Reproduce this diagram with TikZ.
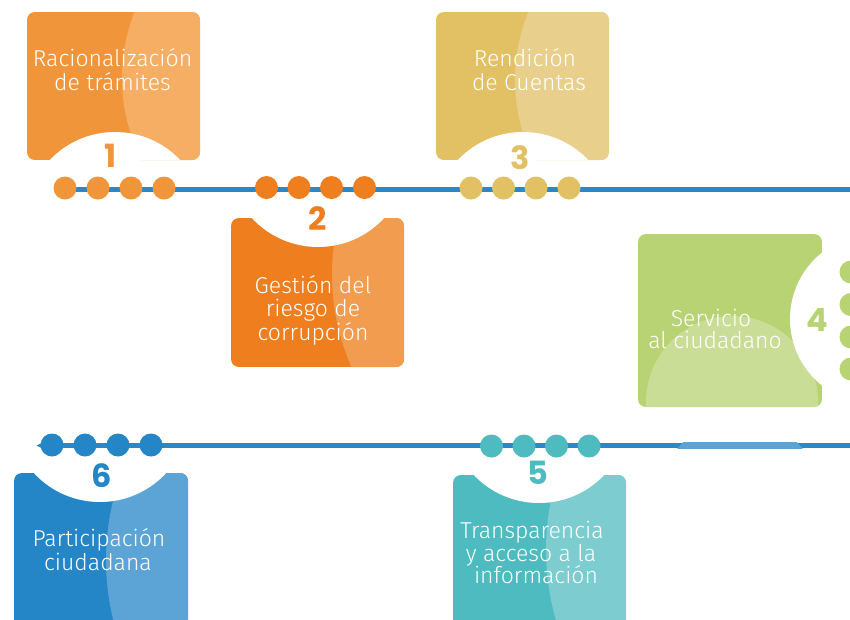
\documentclass[tikz,border=0pt]{standalone}
\usepackage{fontspec}
\newfontfamily\txtfont{Fira Sans Light}
\newfontfamily\numfont{Poppins}
\definecolor{cA}{HTML}{F0953A}\definecolor{cAL}{HTML}{F5AE64}
\definecolor{cB}{HTML}{EE7E1E}\definecolor{cBL}{HTML}{F29C4F}
\definecolor{cC}{HTML}{E2C064}\definecolor{cCL}{HTML}{E8D08C}
\definecolor{cG}{HTML}{B8D373}\definecolor{cGL}{HTML}{CADD97}
\definecolor{cT}{HTML}{4DBBBF}\definecolor{cTL}{HTML}{7DCCCF}
\definecolor{cU}{HTML}{2586C7}\definecolor{cUL}{HTML}{5CA4D6}
\definecolor{cLine}{HTML}{2A87C8}
\newcommand{\mybox}[9]{%
  \begin{scope}
    \clip[rounded corners=8pt] (#1,#2) rectangle (#3,#4);
    \fill[#5] (#1,#2) rectangle (#3,#4);
    \fill[#5L] #6 circle[radius=#7];
    \fill[white] #8 circle[radius=#9];
  \end{scope}}
\begin{document}
\begin{tikzpicture}[x=1pt,y=-1pt,
  txt/.style={text=white, font=\txtfont\fontsize{23}{25}\selectfont, anchor=base, inner sep=0pt},
  num/.style={font=\numfont\bfseries\fontsize{32}{32}\selectfont, inner sep=0pt, anchor=center},
  dot/.style={radius=11.5},
  tline/.style={line width=5.5pt, cLine}]
\useasboundingbox (0,0) rectangle (850,619);
\clip (0,0) rectangle (850,619);
\fill[white] (0,0) rectangle (850,619);
% timelines
\coordinate (l1a) at (60,189.5); \coordinate (l1b) at (851,189.5);
\coordinate (l2a) at (42,445.5); \coordinate (l2b) at (851,445.5);
\draw[tline] (l1a) -- (l1b);
\draw[tline] (l2a) -- (l2b);
\fill[cLine] (36.5,445.5) -- (42,442.75) -- (42,448.25) -- cycle;
\begin{scope}
  \clip (670,442.75) rectangle (810,448.25);
  \fill[cUL] (740,497) circle[radius=79];
\end{scope}
% boxes
\mybox{27}{12}{200}{160}{cA}{(302,78)}{180}{(115,222)}{90}
\mybox{231}{218}{404}{367}{cB}{(557,275)}{225}{(318,157)}{90}
\mybox{436}{12}{609}{160}{cC}{(695,80)}{180}{(523,222)}{90}
\mybox{638}{234}{822}{407}{cG}{(732,402)}{86}{(875,319)}{85}
\mybox{453}{475}{626}{630}{cT}{(796,550)}{250}{(539,413)}{90}
\mybox{14}{473}{188}{630}{cU}{(356,560)}{250}{(100,412)}{90}
% dots
\foreach \x in {65,98,131,164} \fill[cA] (\x,188) circle[dot];
\foreach \x in {266.5,299,331.5,364.5} \fill[cB] (\x,187.5) circle[dot];
\foreach \x in {471,503.5,536,569} \fill[cC] (\x,188) circle[dot];
\foreach \y in {272,304.5,337,369} \fill[cG] (851,\y) circle[dot];
\foreach \x in {52,85,118,151} \fill[cU] (\x,445) circle[dot];
\foreach \x in {491.5,524,556.5,589} \fill[cT] (\x,446) circle[dot];
% numbers
\node[num, text=cA] (n1) at (111,156) {1};
\node[num, text=cB] (n2) at (318,219) {2};
\node[num, text=cC] (n3) at (520,158) {3};
\node[num, text=cG] (n4) at (817,320) {4};
\node[num, text=cT] (n5) at (538,473) {5};
\node[num, text=cU] (n6) at (101.5,476) {6};
% texts
\node[txt] (t1a) at (112.5,66.7) {Racionalización};
\node[txt] (t1b) at (112.5,90) {de trámites};
\node[txt] (t2a) at (313,293.3) {Gestión del};
\node[txt] (t2b) at (313,316.7) {riesgo de};
\node[txt] (t2c) at (313,340) {corrupción};
\node[txt] (t3a) at (525,66.7) {Rendición};
\node[txt] (t3b) at (529,90) {de Cuentas};
\node[txt] (t4a) at (711,326) {Servicio};
\node[txt] (t4b) at (715,348) {al ciudadano};
\node[txt] (t5a) at (532,538) {Transparencia};
\node[txt] (t5b) at (531,561) {y acceso a la};
\node[txt] (t5c) at (536,583) {información};
\node[txt] (t6a) at (99,546.7) {Participación};
\node[txt] (t6b) at (98,570) {ciudadana};
\end{tikzpicture}
\end{document}
